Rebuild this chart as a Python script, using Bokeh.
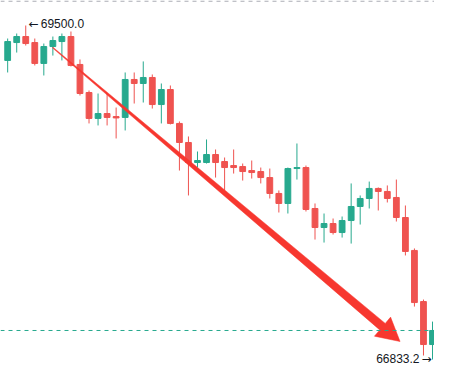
import numpy as np
from bokeh.plotting import figure
from bokeh.models import Range1d, Span, Label, ColumnDataSource
from bokeh.embed import file_html
from bokeh.resources import INLINE

# ---- data ----
idx = list(range(1, 49))
opens = [69221, 69364, 69412, 69364, 69197, 69332, 69372, 69412, 69189, 68965,
         68758, 68797, 68773, 68766, 69069, 69037, 69085, 68869, 68989, 68718,
         68566, 68406, 68406, 68470, 68414, 68382, 68374, 68342, 68334, 68286,
         68159, 68079, 68358, 68366, 68039, 67887, 67919, 67847, 67943, 68055,
         68119, 68199, 68175, 68127, 67967, 67704, 67296, 66953]
highs = [69396, 69436, 69500, 69396, 69356, 69412, 69436, 69452, 69229, 68981,
         68957, 68957, 68845, 69125, 69125, 69213, 69109, 69037, 69021, 68734,
         68614, 68494, 68590, 68510, 68446, 68510, 68398, 68422, 68366, 68358,
         68183, 68366, 68558, 68382, 68079, 67999, 67959, 67975, 68239, 68143,
         68254, 68207, 68223, 68270, 68063, 67720, 67312, 67136]
lows = [69125, 69284, 69340, 69181, 69101, 69260, 69221, 69173, 68941, 68718,
        68702, 68702, 68598, 68662, 68877, 68885, 68837, 68718, 68710, 68342,
        68143, 68366, 68398, 68286, 68183, 68318, 68262, 68278, 68239, 68119,
        68007, 67999, 68270, 68015, 67791, 67767, 67831, 67807, 67759, 67911,
        68039, 68023, 68087, 67935, 67664, 67256, 66865, 66833.2]
closes = [69372, 69412, 69356, 69197, 69332, 69380, 69412, 69181, 68957, 68758,
          68797, 68766, 68762, 69069, 69037, 69085, 68869, 68989, 68718, 68566,
          68406, 68422, 68470, 68406, 68366, 68366, 68334, 68326, 68286, 68159,
          68079, 68358, 68366, 68031, 67887, 67919, 67847, 67943, 68055, 68119,
          68199, 68175, 68119, 67967, 67696, 67288, 66953, 67065]

high_text = "69500.0"
low_text = "66833.2"
left_arrow = "\u2190"
right_arrow = "\u2192"
high_value = 69500.0
low_value = 66833.2
high_index = 3
low_index = 48
last_close = 67065

arrow_x = [5.98, 44.41]
arrow_y = [69324, 66977]

UP = "#27a98e"
DOWN = "#ef5350"
ARROW = "#f7372f"
TEXT = "#131722"

W, H = 434, 367
x0, x1 = 0.207, 48.22
y0, y1 = 66769.5, 69699.6

p = figure(width=W, height=H, output_backend="svg", toolbar_location=None,
           x_range=Range1d(x0, x1), y_range=Range1d(y0, y1),
           x_axis_location=None, y_axis_location=None, min_border=0)
p.grid.visible = False
p.outline_line_color = None
p.background_fill_color = "white"
p.border_fill_color = "white"

ppx = W / (x1 - x0)
ppy = H / (y1 - y0)

colors = [UP if c >= o else DOWN for o, c in zip(opens, closes)]
src = ColumnDataSource(dict(
    x=idx, o=opens, h=highs, l=lows, c=closes,
    top=[max(o, c) for o, c in zip(opens, closes)],
    bot=[min(o, c) for o, c in zip(opens, closes)],
    color=colors))

p.segment(x0="x", y0="h", x1="x", y1="l", color="color", line_width=1, source=src)
p.vbar(x="x", width=0.64, top="top", bottom="bot", fill_color="color",
       line_color="color", line_width=1, source=src)

p.add_layout(Span(location=last_close, dimension="width", line_color=UP,
                  line_dash="4 4", line_width=1))
p.add_layout(Span(location=y1 - 0.6 / ppy, dimension="width", line_color="#9598a1",
                  line_dash="4 4", line_width=1))

# tapered arrow, built in screen space from the two data points
S = np.array([(arrow_x[0] - x0) * ppx, (arrow_y[0] - y0) * ppy])
T = np.array([(arrow_x[1] - x0) * ppx, (arrow_y[1] - y0) * ppy])
u = (T - S) / np.linalg.norm(T - S)
n = np.array([-u[1], u[0]])
L, HH, w0, w1 = 23.0, 12.5, 0.8, 8.5
B = T - L * u
pts = [S + n * w0 / 2, B + n * w1 / 2, B + n * HH, T, B - n * HH, B - n * w1 / 2, S - n * w0 / 2]
ax = [pt[0] / ppx + x0 for pt in pts]
ay = [pt[1] / ppy + y0 for pt in pts]
p.patch(ax, ay, fill_color=ARROW, line_color=ARROW, line_width=0.5)

common = dict(text_baseline="middle", text_color=TEXT)
p.add_layout(Label(x=high_index, y=high_value, text=left_arrow, x_offset=3, y_offset=2,
                   text_align="left", text_font_size="12px", text_font="DejaVu Sans", **common))
p.add_layout(Label(x=high_index, y=high_value, text=high_text, x_offset=15, y_offset=2,
                   text_align="left", text_font_size="12px", text_font="Liberation Sans", **common))
p.add_layout(Label(x=low_index, y=low_value, text=low_text, x_offset=-13, y_offset=1,
                   text_align="right", text_font_size="12px", text_font="Liberation Sans", **common))
p.add_layout(Label(x=low_index, y=low_value, text=right_arrow, x_offset=-1, y_offset=1,
                   text_align="right", text_font_size="12px", text_font="DejaVu Sans", **common))

open("out.html", "w").write(file_html(p, INLINE))
